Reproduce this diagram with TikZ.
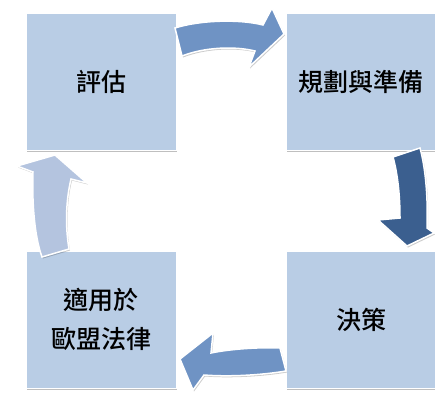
\documentclass[tikz,border=0pt]{standalone}
\usepackage{fontspec}
\newfontfamily\cjk{Noto Sans CJK TC Medium}
\usetikzlibrary{shadows}
\definecolor{boxblue}{HTML}{B9CDE5}
\definecolor{arrowmid}{HTML}{6F93C4}
\definecolor{arrowdark}{HTML}{3B5F8F}
\definecolor{arrowlight}{HTML}{B4C4DF}

\begin{document}
\begin{tikzpicture}[
  x=1pt, y=-1pt,
  stage/.style={fill=boxblue, draw=white, line width=1pt, minimum width=150pt,
    minimum height=137pt, align=center, inner sep=0pt,
    font={\cjk\fontsize{25}{39}\selectfont},
    drop shadow={shadow xshift=1pt, shadow yshift=-1.5pt, opacity=0.25, fill=black}},
  cyclearrow/.style={draw=white, line width=1.5pt, line join=miter,
    drop shadow={shadow xshift=1pt, shadow yshift=-1.5pt, opacity=0.2, fill=black}}
]
\useasboundingbox (0,0) rectangle (435,392);

\node[stage] (assess) at (101,81.5) {評估};
\node[stage] (plan) at (361,81.5) {規劃與準備};
\node[stage] (decide) at (361,319.5) {決策};
\node[stage] (apply) at (101,319.5) {適用於\\歐盟法律};

\draw[cyclearrow, fill=arrowmid] (175,28) .. controls (200,20) and (240,19) .. (263,25)
  -- (272,8) -- (284,34) -- (249,67) -- (255,51)
  .. controls (235,46) and (205,47) .. (182,56) -- cycle;
\draw[cyclearrow, fill=arrowdark] (420,148) .. controls (426,170) and (428,200) .. (427,228)
  -- (434,233) -- (407,246) -- (378,220) -- (400,218)
  .. controls (400,197) and (398,175) .. (393,157) -- cycle;
\draw[cyclearrow, fill=arrowmid] (280,348) .. controls (260,347) and (230,349) .. (211,353)
  -- (213,333) -- (180,359) -- (193,390) -- (204,375)
  .. controls (230,377) and (262,375) .. (286,371) -- cycle;
\draw[cyclearrow, fill=arrowlight] (42,257) .. controls (34,235) and (32,200) .. (33,172)
  -- (17,166) -- (55,155) -- (87,183) -- (71,179)
  .. controls (66,200) and (65,225) .. (69,249) -- cycle;
\end{tikzpicture}
\end{document}
